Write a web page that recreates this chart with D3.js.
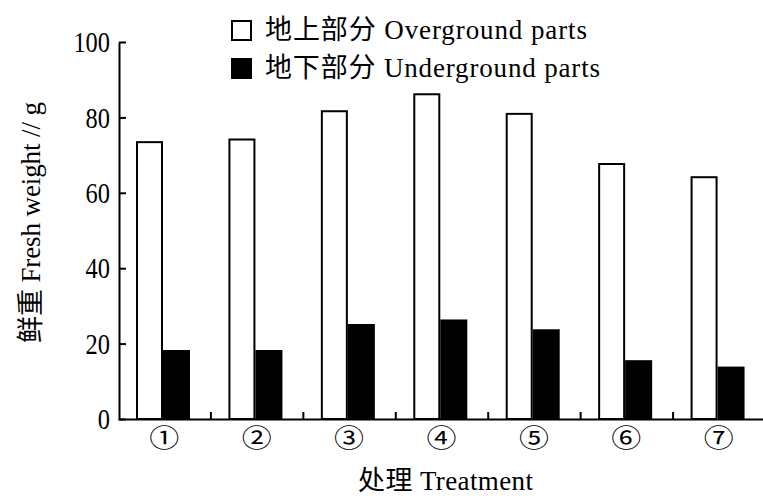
<!DOCTYPE html>
<html>
<head>
<meta charset="utf-8">
<script src="https://cdn.jsdelivr.net/npm/d3@7"></script>
<style>
	body { margin: 0; background: #fff; }
	svg { display: block; }
	text { font-family: "Liberation Serif", "Noto Sans CJK SC", serif; fill: #000; }
</style>
</head>
<body>
<div id="chart"></div>
<script>
const treatments = ['①', '②', '③', '④', '⑤', '⑥', '⑦'];
const seriesKeys = ['above', 'below'];
const seriesNames = ['地上部分 Overground parts', '地下部分 Underground parts'];
const overground = [73.7, 74.4, 81.9, 86.4, 81.2, 67.9, 64.4];
const underground = [18.3, 18.3, 25.2, 26.4, 23.8, 15.6, 13.9];
const yTicks = [0, 20, 40, 60, 80, 100];

const width = 763;
const height = 496;
const margin = { top: 42, left: 118, right: -2, bottom: 77 };

const data = treatments.map((t, i) => ({ t, above: overground[i], below: underground[i] }));

const svg = d3.select('#chart').append('svg')
	.attr('width', width)
	.attr('height', height);

const x0 = d3.scaleBand()
	.domain(treatments)
	.range([margin.left, width - margin.right]);

const x1 = d3.scaleBand()
	.domain(seriesKeys)
	.range([18, 72]);

const y = d3.scaleLinear()
	.domain([0, 100])
	.range([height - margin.bottom, margin.top]);

const fills = { above: '#fff', below: '#000' };

// bars
const groups = svg.append('g')
	.selectAll('g')
	.data(data)
	.join('g')
	.attr('transform', (d) => `translate(${x0(d.t)},0)`);

groups.selectAll('rect')
	.data((d) => seriesKeys.map((k) => ({ k, v: d[k] })))
	.join('rect')
	.attr('x', (d) => x1(d.k) + 1)
	.attr('y', (d) => y(d.v) + 1)
	.attr('width', x1.bandwidth() - 2)
	.attr('height', (d) => y(0) - y(d.v) - 1)
	.attr('fill', (d) => fills[d.k])
	.attr('stroke', '#000')
	.attr('stroke-width', 2);

// y axis, ticks inward
const yAxis = d3.axisLeft(y)
	.tickValues(yTicks)
	.tickSizeInner(-7)
	.tickSizeOuter(0)
	.tickPadding(9);

const yg = svg.append('g')
	.attr('transform', `translate(${margin.left + 1},0)`)
	.call(yAxis);
yg.select('.domain').attr('stroke-width', 2);
yg.selectAll('.tick line').attr('stroke-width', 2);
yg.selectAll('.tick text')
	.attr('font-size', 30)
	.attr('font-family', 'Liberation Serif')
	.attr('textLength', (d) => String(d).length * 12.2)
	.attr('lengthAdjust', 'spacingAndGlyphs');

// x axis: boundary ticks pointing up
const xb = d3.scaleLinear()
	.domain([0, treatments.length])
	.range(x0.range());

const xTickAxis = d3.axisBottom(xb)
	.tickValues(d3.range(1, treatments.length))
	.tickSizeInner(-7)
	.tickSizeOuter(0)
	.tickFormat('');

const xg = svg.append('g')
	.attr('transform', `translate(0,${y(0)})`)
	.call(xTickAxis);
xg.select('.domain').attr('stroke-width', 2);
xg.selectAll('.tick line').attr('stroke-width', 2);

// category labels
const xLabelAxis = d3.axisBottom(x0).tickSize(0).tickPadding(10);
const xl = svg.append('g')
	.attr('transform', `translate(0,${y(0)})`)
	.call(xLabelAxis);
xl.select('.domain').remove();
xl.selectAll('.tick text')
	.attr('font-size', 25)
	.attr('font-family', '"Noto Sans CJK SC"')
	.attr('textLength', 30)
	.attr('lengthAdjust', 'spacingAndGlyphs');

// axis titles
svg.append('text')
	.attr('x', 445.5)
	.attr('y', 490)
	.attr('text-anchor', 'middle')
	.attr('font-size', 27)
	.attr('textLength', 175)
	.attr('lengthAdjust', 'spacing')
	.text('处理 Treatment');

svg.append('text')
	.attr('transform', 'translate(40,222.5) rotate(-90)')
	.attr('text-anchor', 'middle')
	.attr('font-size', 27)
	.attr('textLength', 241)
	.attr('lengthAdjust', 'spacing')
	.text('鲜重 Fresh weight // g');

// legend
const legend = svg.append('g')
	.selectAll('g')
	.data(seriesKeys)
	.join('g')
	.attr('transform', (d, i) => `translate(231,${20 + i * 38})`);

legend.append('rect')
	.attr('x', 1)
	.attr('y', 1)
	.attr('width', 19)
	.attr('height', 19)
	.attr('fill', (d) => fills[d])
	.attr('stroke', '#000')
	.attr('stroke-width', 2);

legend.append('text')
	.attr('x', 34)
	.attr('y', 18.5)
	.attr('font-size', 27)
	.attr('textLength', (d, i) => [322, 335][i])
	.attr('lengthAdjust', 'spacing')
	.text((d, i) => seriesNames[i]);
</script>
</body>
</html>
